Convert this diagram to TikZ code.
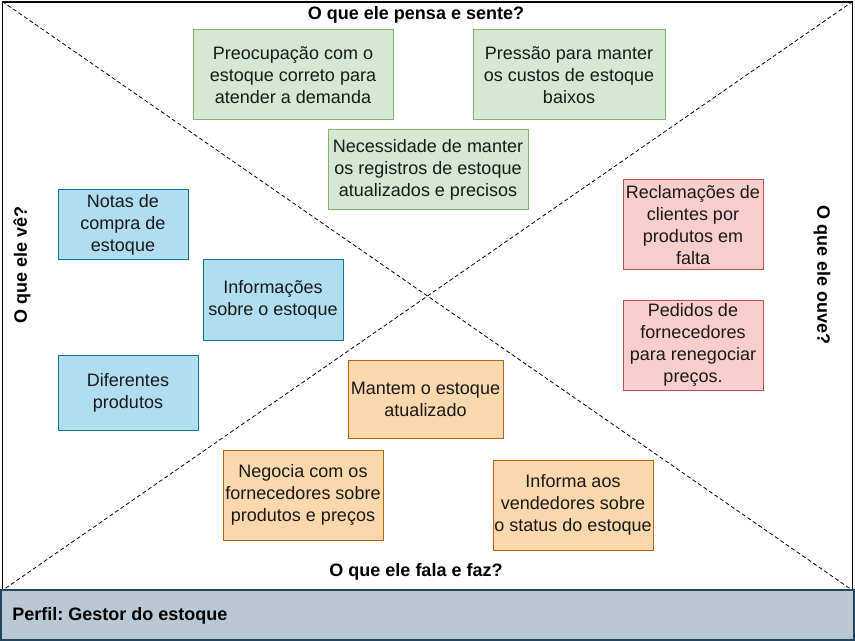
\documentclass[tikz,border=0pt]{standalone}
\usepackage{fontspec}
\setmainfont{Liberation Sans}
\frenchspacing
\definecolor{gfill}{HTML}{D5E8D4}\definecolor{gline}{HTML}{82B366}
\definecolor{bfill}{HTML}{B1DDF0}\definecolor{bline}{HTML}{10739E}
\definecolor{rfill}{HTML}{F8CECC}\definecolor{rline}{HTML}{B85450}
\definecolor{ofill}{HTML}{FAD7AC}\definecolor{oline}{HTML}{B46504}
\definecolor{pfill}{HTML}{BAC8D3}\definecolor{pline}{HTML}{23445D}
\begin{document}
\begin{tikzpicture}[x=0.75pt,y=-0.75pt,
  card/.style={draw=#1line,fill=#1fill,line width=0.75pt,align=center,inner sep=0pt,
    font=\fontsize{13.5}{16.5}\selectfont,text=black!90},
  sz/.style 2 args={minimum width=#1*0.75pt,minimum height=#2*0.75pt},
  ttl/.style={font=\fontsize{13.5}{16}\selectfont\bfseries,text=black}]
\useasboundingbox (0,0) rectangle (855,641);
\node[draw=black,line width=0.9pt,sz={849.5}{588},inner sep=0pt] (main) at (427.5,296) {};
\draw[dash pattern=on 3pt off 2pt,line width=0.6pt] (main.north west) -- (main.south east);
\draw[dash pattern=on 3pt off 2pt,line width=0.6pt] (main.north east) -- (main.south west);
\node[draw=pline,fill=pfill,line width=0.9pt,sz={853}{50},inner sep=0pt] (perfil) at (427.5,615) {};
\node[ttl,anchor=west,inner sep=0pt] (perfiltxt) at (12,616) {Perfil: Gestor do estoque};
\node[ttl] (pensa) at (416,15) {O que ele pensa e sente?};
\node[ttl] (fala) at (416,572) {O que ele fala e faz?};
\node[ttl,rotate=90] (ve) at (22,265) {O que ele vê?};
\node[ttl,rotate=-90] (ouve) at (822,275) {O que ele ouve?};
% green
\node[card=g,sz={200}{90}] (g1) at (293,75) {Preocupação com o\\estoque correto para\\atender a demanda};
\node[card=g,sz={192}{90}] (g2) at (569,75) {Pressão para manter\\os custos de estoque\\baixos};
\node[card=g,sz={200}{80}] (g3) at (428,170) {Necessidade de manter\\os registros de estoque\\atualizados e precisos};
% blue
\node[card=b,sz={130}{70}] (b1) at (123,225) {Notas de\\compra de\\estoque};
\node[card=b,sz={140}{80}] (b2) at (273,300) {Informações\\sobre o estoque};
\node[card=b,sz={140}{75}] (b3) at (128,392.5) {Diferentes\\produtos};
% red
\node[card=r,sz={140}{90}] (r1) at (693,225) {Reclamações de\\clientes por\\produtos em\\falta};
\node[card=r,sz={140}{90}] (r2) at (693,345) {Pedidos de\\fornecedores\\para renegociar\\preços.};
% orange
\node[card=o,sz={155}{78}] (o1) at (425.5,399) {Mantem o estoque\\atualizado};
\node[card=o,sz={160}{90}] (o2) at (303,495) {Negocia com os\\fornecedores sobre\\produtos e preços};
\node[card=o,sz={160}{90}] (o3) at (573,505) {Informa aos\\vendedores sobre\\o status do estoque};
\end{tikzpicture}
\end{document}
